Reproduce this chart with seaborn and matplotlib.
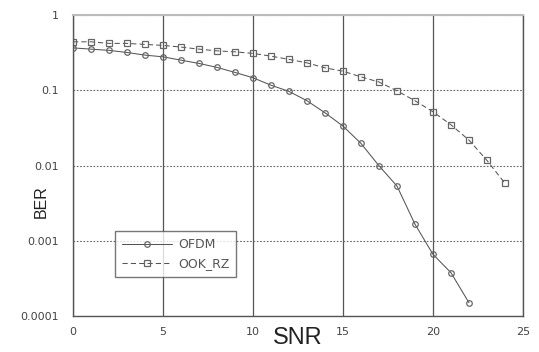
import matplotlib
matplotlib.use("Agg")
import matplotlib.pyplot as plt
import seaborn as sns
import numpy as np
import pandas as pd

snr_ofdm = list(range(0, 23))
ber_ofdm = [0.367, 0.353, 0.340, 0.319, 0.294, 0.279, 0.252, 0.228, 0.202, 0.173,
            0.147, 0.117, 0.0969, 0.0727, 0.0503, 0.0335, 0.0197, 0.00994, 0.00534,
            0.00166, 0.00066, 0.000376, 0.000150]
snr_ook = list(range(0, 25))
ber_ook = [0.442, 0.442, 0.421, 0.421, 0.408, 0.396, 0.376, 0.353, 0.335, 0.325,
           0.310, 0.285, 0.258, 0.232, 0.199, 0.180, 0.151, 0.129, 0.0986, 0.0727,
           0.0519, 0.0348, 0.0218, 0.0117, 0.00580]
series_names = ["OFDM", "OOK_RZ"]
x_ticks = [0, 5, 10, 15, 20, 25]
y_ticks = [1, 0.1, 0.01, 0.001, 0.0001]
y_tick_labels = ["1", "0.1", "0.01", "0.001", "0.0001"]

df = pd.concat([
    pd.DataFrame({"SNR": snr_ofdm, "BER": ber_ofdm, "series": series_names[0]}),
    pd.DataFrame({"SNR": snr_ook, "BER": ber_ook, "series": series_names[1]}),
])

sns.set_style("white")
plt.rcParams['font.family'] = ['DejaVu Sans']

fig = plt.figure(figsize=(5.39, 3.52), dpi=100)
ax = fig.add_axes([0.1354, 0.1023, 0.8349, 0.8547])

line_color = "#555555"
sns.lineplot(data=df, x="SNR", y="BER", hue="series", style="series",
             markers={"OFDM": "o", "OOK_RZ": "s"},
             dashes={"OFDM": "", "OOK_RZ": (5, 3)},
             palette={"OFDM": line_color, "OOK_RZ": line_color},
             markerfacecolor="none", markeredgecolor="#666666", markersize=4,
             markeredgewidth=0.9, linewidth=0.75, ax=ax)

ax.set_yscale("log")
ax.set_xlim(0, 25)
ax.set_ylim(0.0001, 1)
ax.set_xticks(x_ticks)
ax.set_xticklabels([str(t) for t in x_ticks], fontsize=8, color="#444444")
ax.set_yticks(y_ticks)
ax.set_yticklabels(y_tick_labels, fontsize=8, color="#444444")
ax.yaxis.set_minor_locator(matplotlib.ticker.NullLocator())
ax.tick_params(axis="y", length=0, pad=10)
ax.tick_params(axis="x", length=0, pad=8)

ax.xaxis.grid(True, color="#555555", linestyle="-", linewidth=0.9)
ax.yaxis.grid(True, color="#666666", linestyle=(0, (1.5, 1.5)), linewidth=0.8)
ax.set_axisbelow(True)

for side in ["left", "right", "bottom"]:
    ax.spines[side].set_color("#555555")
    ax.spines[side].set_linewidth(1.0)
ax.spines["top"].set_color("#bbbbbb")
ax.spines["top"].set_linewidth(1.5)

ax.set_xlabel("")
ax.set_ylabel("")
fig.text(298 / 539, 1 - 338 / 352, "SNR", fontsize=17, ha="center", va="center",
         color="#222222", family="Liberation Sans")
fig.text(41 / 539, 1 - 202 / 352, "BER", fontsize=11.5, ha="center", va="center",
         rotation=90, color="#222222", family="Liberation Sans")

handles, labels = ax.get_legend_handles_labels()
leg = ax.legend(handles, labels, loc="upper left",
                bbox_to_anchor=((115 - 73) / 450, 1 - (231 - 15) / 301),
                borderaxespad=0,
                fontsize=9, frameon=True, fancybox=False, edgecolor="#555555",
                handlelength=4.0, handletextpad=0.5, borderpad=0.55,
                labelspacing=0.5, labelcolor="#555555")
leg.get_frame().set_linewidth(1.0)

fig.savefig("out.png", dpi=100)
